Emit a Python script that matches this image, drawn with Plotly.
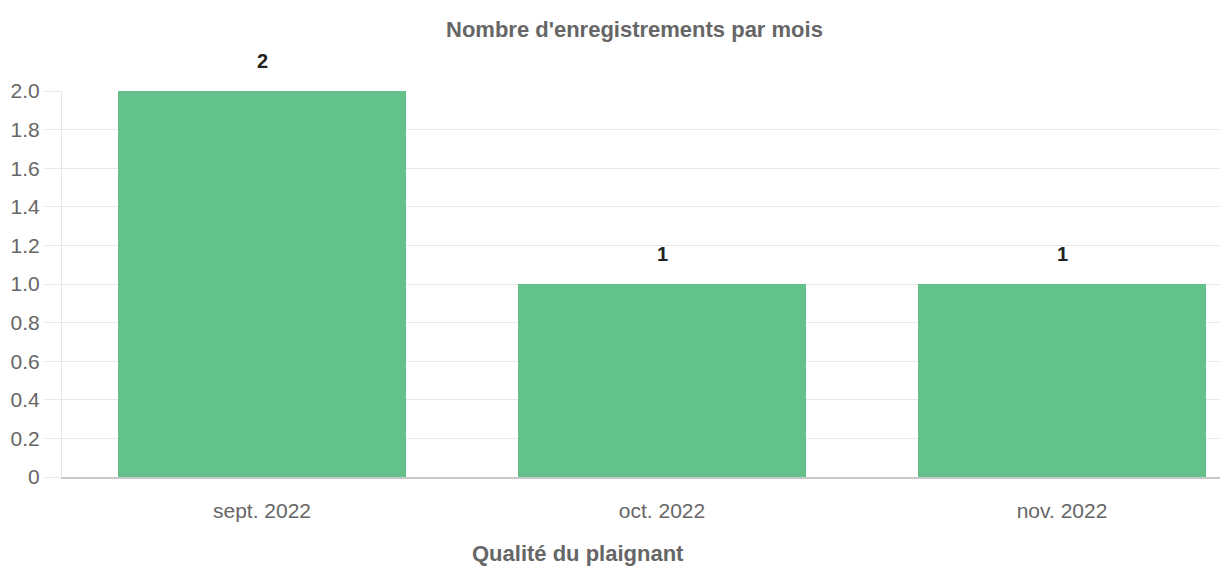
import plotly.graph_objects as go

categories = ["sept. 2022", "oct. 2022", "nov. 2022"]
counts = [2, 1, 1]
y_tick_vals = [0, 0.2, 0.4, 0.6, 0.8, 1.0, 1.2, 1.4, 1.6, 1.8, 2.0]
y_tick_text = ["0", "0.2", "0.4", "0.6", "0.8", "1.0", "1.2", "1.4", "1.6", "1.8", "2.0"]
chart_title = "Nombre d'enregistrements par mois"
x_title = "Qualité du plaignant"

FONT = "Liberation Sans, Arial, sans-serif"

fig = go.Figure()
fig.add_trace(go.Bar(
    x=categories, y=counts,
    marker=dict(color="#63c18b", line=dict(width=0)),
    width=0.72,
    hoverinfo="skip",
))

annotations = []
for c, v in zip(categories, counts):
    annotations.append(dict(
        x=c, y=v, xref="x", yref="y", text=f"<b>{v}</b>", showarrow=False,
        yanchor="middle", yshift=30, font=dict(family=FONT, size=20, color="#222222"),
    ))
annotations.append(dict(
    x=(634 - 62) / (1220 - 62), y=1, xref="paper", yref="paper", yshift=62,
    yanchor="middle",
    text=f"<b>{chart_title}</b>", showarrow=False,
    font=dict(family=FONT, size=22, color="#666666"),
))
annotations.append(dict(
    x=(578 - 62) / (1220 - 62), y=0, xref="paper", yref="paper", yshift=-76,
    yanchor="middle",
    text=f"<b>{x_title}</b>", showarrow=False,
    font=dict(family=FONT, size=22, color="#666666"),
))

fig.update_layout(
    width=1220, height=568,
    margin=dict(l=62, r=0, t=91, b=91, autoexpand=False),
    paper_bgcolor="white", plot_bgcolor="white",
    showlegend=False,
    annotations=annotations,
    font=dict(family=FONT, color="#666666"),
    xaxis=dict(
        range=[-0.5, 2.395], showgrid=False, zeroline=False,
        showline=True, linecolor="#c8c8c8", linewidth=2,
        ticks="", ticklabelstandoff=14,
        tickfont=dict(family=FONT, size=21, color="#666666"),
        fixedrange=True,
    ),
    yaxis=dict(
        range=[0, 2.0], tickvals=y_tick_vals, ticktext=y_tick_text,
        showgrid=True, gridcolor="#e8e8e8", gridwidth=1, zeroline=False,
        showline=True, linecolor="#e5e5e5", linewidth=1,
        ticks="outside", ticklen=17, tickcolor="#e8e8e8",
        tickfont=dict(family=FONT, size=21, color="#666666"),
        fixedrange=True,
    ),
)

fig.write_html("out.html")
